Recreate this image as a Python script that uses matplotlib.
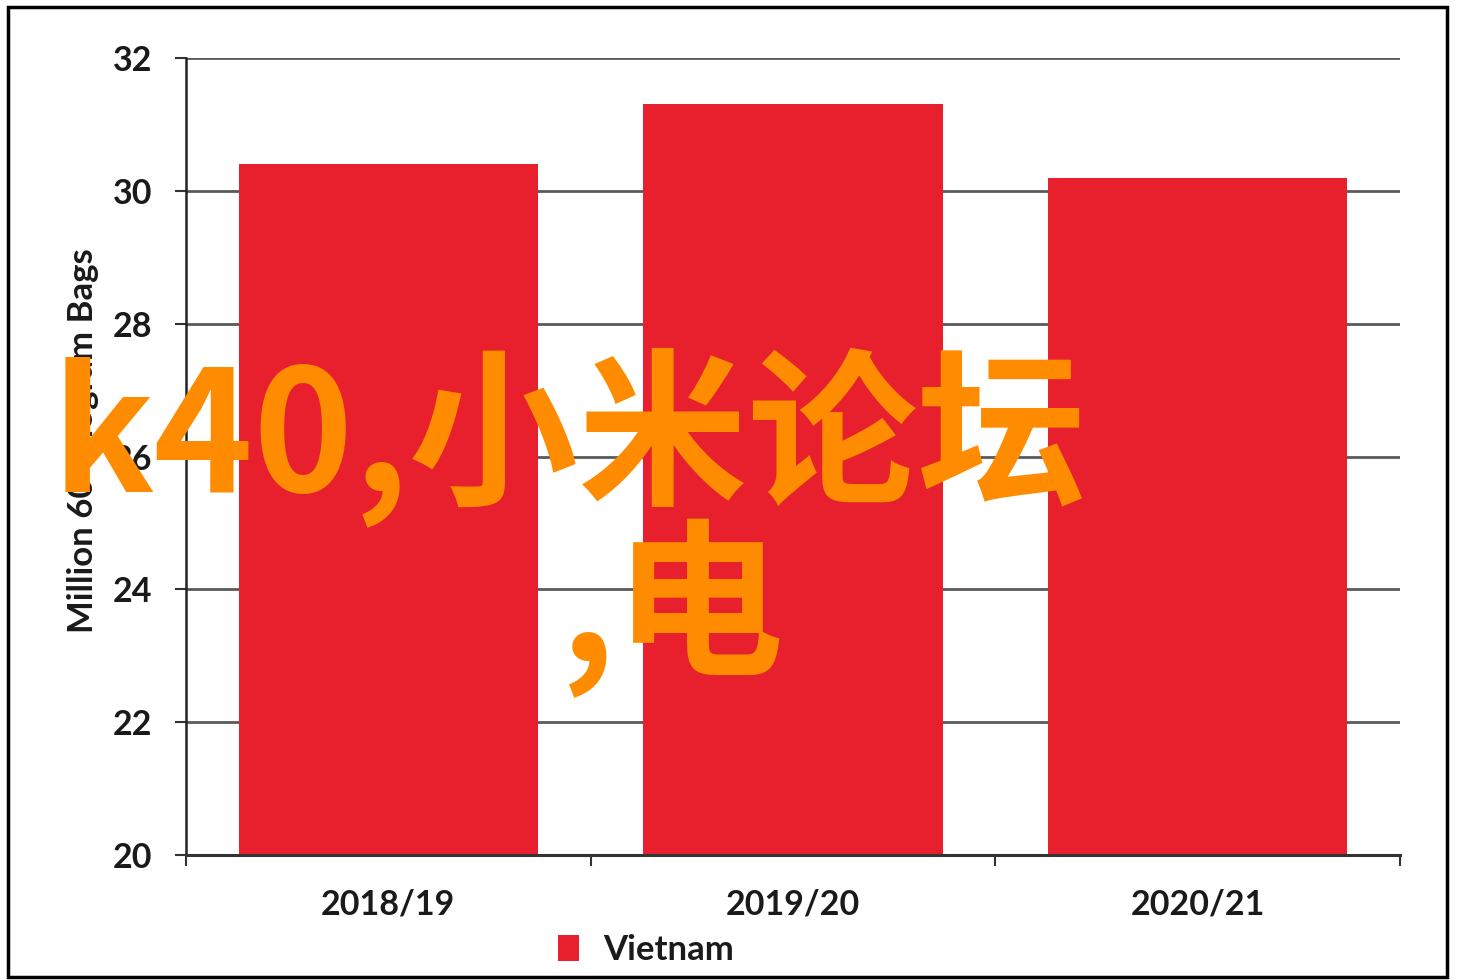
import matplotlib
matplotlib.use("Agg")
import matplotlib.pyplot as plt
from matplotlib.patches import Rectangle

categories = ["2018/19", "2019/20", "2020/21"]
values = [30.4, 31.3, 30.2]
yticks = [20, 22, 24, 26, 28, 30, 32]
series_name = "Vietnam"
ylabel = "Million 60-kilogram Bags"
overlay_line1 = "k40,小米论坛"
overlay_line2 = ",电"

W, H = 1462, 980
fig = plt.figure(figsize=(W / 100, H / 100), dpi=100)
fig.patch.set_facecolor("white")

L, R, T, B = 186, 1400, 58, 855
ax = fig.add_axes([L / W, 1 - B / H, (R - L) / W, (B - T) / H])

bar_color = "#E8202E"
x = list(range(len(categories)))
bars = ax.bar(x, values, width=0.74, color=bar_color, zorder=3, label=series_name)

ax.set_xlim(-0.5, len(categories) - 0.5)
ax.set_ylim(20, 32)
ax.set_yticks(yticks)
ax.set_yticklabels([str(v) for v in yticks])
ax.set_xticks(x)
ax.set_xticklabels(categories)
ax.set_xticks([i - 0.5 for i in range(len(categories) + 1)], minor=True)

for lab in ax.get_yticklabels() + ax.get_xticklabels():
    lab.set_fontfamily("Lato")
    lab.set_fontweight("bold")
    lab.set_fontsize(24.5)
    lab.set_color("#1a1a1a")

ax.tick_params(axis="y", length=8, width=1.5, color="#333333", pad=16)
ax.tick_params(axis="x", which="major", length=0, pad=24)
ax.tick_params(axis="x", which="minor", length=8, width=1.5, color="#333333")

ax.yaxis.grid(True, color="#5a5a5a", linewidth=2.0, zorder=1)
ax.set_axisbelow(True)
for s in ["top", "right"]:
    ax.spines[s].set_visible(False)
ax.spines["left"].set_color("#222222")
ax.spines["left"].set_linewidth(1.8)
ax.spines["bottom"].set_color("#333333")
ax.spines["bottom"].set_linewidth(2.2)
ax.spines["bottom"].set_zorder(4)

ax.set_ylabel(ylabel, fontfamily="Lato", fontweight="bold", fontsize=25,
              color="#1a1a1a", labelpad=14)
ax.yaxis.set_label_coords(-0.072, 0.52)

leg = fig.legend(handles=[bars], labels=[series_name], loc="center",
                 bbox_to_anchor=(646 / W, 1 - 950 / H), frameon=False,
                 prop=dict(family="Lato", weight="bold", size=25),
                 handlelength=0.6, handleheight=0.8, handletextpad=0.7)
for t in leg.get_texts():
    t.set_color("#1a1a1a")

# outer frame
fig.patches.append(Rectangle((8 / W, 1 - 977 / H), (1447 - 8) / W, (977 - 7) / H,
                             transform=fig.transFigure, fill=False,
                             edgecolor="black", linewidth=2.5, zorder=10))

orange = "#FF8C00"
fam = ["Noto Sans CJK SC", "DejaVu Sans"]
fig.text(52 / W, 1 - 492 / H, overlay_line1, fontsize=122, color=orange,
         family=fam, weight="bold", ha="left", va="baseline", zorder=20)
fig.text(560 / W, 1 - 662 / H, overlay_line2, fontsize=122, color=orange,
         family=fam, weight="bold", ha="left", va="baseline", zorder=20)

fig.savefig("out.png", dpi=100)
